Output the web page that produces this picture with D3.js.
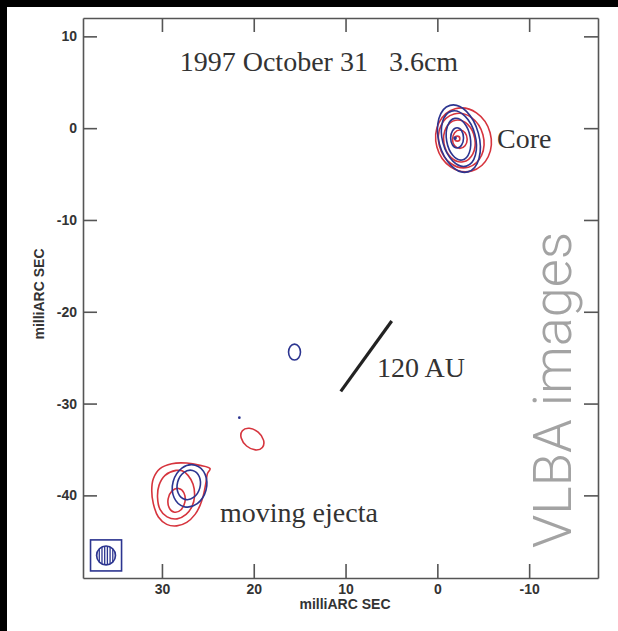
<!DOCTYPE html>
<html><head><meta charset="utf-8">
<script src="https://cdn.jsdelivr.net/npm/d3@7"></script>
<style>
html,body{margin:0;padding:0;background:#fff;overflow:hidden;}
svg{display:block;}
</style></head><body>
<svg id="chart" width="618" height="631"></svg>
<script>
// Offsets in milliarcseconds (RA offset grows to the left).
const xTicks = [30, 20, 10, 0, -10];
const yTicks = [10, 0, -10, -20, -30, -40];
const xDomain = [38.6, -17.5];
const yDomain = [-49, 12];

// Contour fits: [cx, cy, rx, ry, angleDeg] in mas.
const coreBlue = [
  [-2.35, -1.14, 2.20, 3.75, -15],
  [-2.35, -1.14, 1.80, 3.10, -15],
  [-2.30, -1.20, 1.30, 2.30, -10],
  [-2.15, -1.06, 0.70, 1.10, 0]
];
const coreRed = [
  [-2.85, -1.27, 3.00, 3.50, -15],
  [-2.60, -1.35, 2.45, 3.00, -15],
  [-2.40, -1.40, 1.70, 2.30, -10],
  [-2.45, -1.20, 0.80, 1.00, 0],
  [-2.18, -1.14, 0.27, 0.27, 0]
];
const knotBlue = [
  [26.99, -38.97, 1.85, 2.34, 15],
  [27.08, -38.86, 1.25, 1.63, 15],
  [15.56, -24.39, 0.65, 0.87, 0]
];
const knotRed = [
  [28.41, -40.54, 0.93, 1.31, 10],
  [20.15, -33.87, 1.42, 0.98, 40]
];
// Peak dots [x, y, r]
const dotsBlue = [[-1.93, -1.08, 0.2], [21.57, -31.54, 0.15]];

// Irregular outer contours of the ejecta (mas)
const ejectaRedOuter = [
  [24.76,-37.09],[25.85,-36.73],[27.30,-36.48],[28.93,-36.55],[30.21,-37.09],
  [30.94,-38.18],[31.11,-39.46],[30.94,-40.90],[30.39,-42.36],[29.48,-43.16],
  [28.39,-43.32],[27.30,-42.94],[26.39,-42.07],[25.85,-41.09],[25.49,-40.00],
  [25.20,-38.55],[25.05,-37.64]
];
const ejectaRedMid = [
  [28.46,-37.28],[29.66,-37.82],[30.32,-38.91],[30.48,-40.22],[30.21,-41.52],
  [29.44,-42.34],[28.35,-42.56],[27.37,-42.07],[26.72,-41.20],[26.45,-40.11],
  [26.61,-38.80],[27.16,-37.82],[27.81,-37.33]
];

// 120 AU scale bar end points (mas)
const scaleBar = [[10.52, -28.67], [4.97, -21.01]];
// Restoring beam: centre, radius, box half-size (mas)
const beam = {x: 36.09, y: -46.54, r: 1.03, half: 1.69};

const labels = [
  {text: "1997 October 31   3.6cm", x: 12.9, y: 6.2, anchor: "middle"},
  {text: "Core", x: -6.5, y: -2.19, anchor: "start"},
  {text: "120 AU", x: 6.57, y: -27.14, anchor: "start"},
  {text: "moving ejecta", x: 23.67, y: -42.94, anchor: "start"}
];

const RED = "#d6343d", BLUE = "#2c3590", INK = "#333", FRAME = "#555";

const svg = d3.select("#chart");
svg.append("rect").attr("width", 618).attr("height", 631).attr("fill", "#fff");
// dark edge bands
svg.append("rect").attr("x", 0).attr("y", 0).attr("width", 618).attr("height", 7).attr("fill", "#000");
svg.append("rect").attr("x", 0).attr("y", 0).attr("width", 7).attr("height", 631).attr("fill", "#000");

const plotL = 83, plotR = 598, plotT = 18, plotB = 578;
const x = d3.scaleLinear().domain(xDomain).range([plotL, plotR]);
const y = d3.scaleLinear().domain(yDomain).range([plotB, plotT]);
const k = Math.abs(x(1) - x(0));
const fmt = d => String(d);

// axes, ticks pointing inward
const axisStyle = g => {
  g.selectAll(".domain").attr("stroke", FRAME).attr("stroke-width", 1.6);
  g.selectAll(".tick line").attr("stroke", FRAME).attr("stroke-width", 1.6);
  g.selectAll("text").attr("fill", INK).attr("font-family", "Liberation Sans, Arial, sans-serif")
    .attr("font-weight", "bold").attr("font-size", 14);
};
svg.append("g").attr("transform", `translate(0,${plotB})`)
  .call(d3.axisBottom(x).tickValues(xTicks).tickFormat(fmt).tickSize(-14).tickSizeOuter(0).tickPadding(6))
  .call(axisStyle);
svg.append("g").attr("transform", `translate(0,${plotT})`)
  .call(d3.axisTop(x).tickValues(xTicks).tickSize(-14).tickSizeOuter(0).tickFormat(""))
  .call(axisStyle);
svg.append("g").attr("transform", `translate(${plotL},0)`)
  .call(d3.axisLeft(y).tickValues(yTicks).tickFormat(fmt).tickSize(-14).tickSizeOuter(0).tickPadding(6))
  .call(axisStyle);
svg.append("g").attr("transform", `translate(${plotR},0)`)
  .call(d3.axisRight(y).tickValues(yTicks).tickSize(-14).tickSizeOuter(0).tickFormat(""))
  .call(axisStyle);

// axis titles
svg.append("text").attr("x", 345).attr("y", 609).attr("text-anchor", "middle")
  .attr("font-family", "Liberation Sans, Arial, sans-serif").attr("font-weight", "bold")
  .attr("font-size", 14).attr("fill", INK).text("milliARC SEC");
svg.append("text").attr("transform", "translate(44,294) rotate(-90)").attr("text-anchor", "middle")
  .attr("font-family", "Liberation Sans, Arial, sans-serif").attr("font-weight", "bold")
  .attr("font-size", 14).attr("fill", INK).text("milliARC SEC");

// vertical caption
svg.append("text").attr("transform", "translate(571,548) rotate(-90)")
  .attr("font-family", "Roboto, sans-serif").attr("font-weight", 300)
  .attr("font-size", 54).attr("fill", "#a3a3a3").text("VLBA images");

// contour ellipses
const drawEllipses = (data, color) => svg.append("g").selectAll("ellipse").data(data).join("ellipse")
  .attr("cx", d => x(d[0])).attr("cy", d => y(d[1]))
  .attr("rx", d => d[2] * k).attr("ry", d => d[3] * k)
  .attr("transform", d => `rotate(${d[4]},${x(d[0])},${y(d[1])})`)
  .attr("fill", "none").attr("stroke", color).attr("stroke-width", 1.6);

const line = d3.line().x(d => x(d[0])).y(d => y(d[1])).curve(d3.curveCatmullRomClosed.alpha(0.5));
svg.append("g").selectAll("path").data([ejectaRedOuter, ejectaRedMid]).join("path")
  .attr("d", line).attr("fill", "none").attr("stroke", RED).attr("stroke-width", 1.6);

drawEllipses(coreRed, RED);
drawEllipses(knotRed, RED);
drawEllipses(coreBlue, BLUE);
drawEllipses(knotBlue, BLUE);
svg.append("g").selectAll("circle").data(dotsBlue).join("circle")
  .attr("cx", d => x(d[0])).attr("cy", d => y(d[1])).attr("r", d => d[2] * k).attr("fill", BLUE);

// scale bar
svg.append("line").attr("x1", x(scaleBar[0][0])).attr("y1", y(scaleBar[0][1]))
  .attr("x2", x(scaleBar[1][0])).attr("y2", y(scaleBar[1][1]))
  .attr("stroke", "#222").attr("stroke-width", 3.2);

// annotations
svg.append("g").selectAll("text").data(labels).join("text")
  .attr("x", d => x(d.x)).attr("y", d => y(d.y)).attr("text-anchor", d => d.anchor)
  .attr("font-family", "Liberation Serif, Times New Roman, serif").attr("font-size", 28)
  .attr("fill", INK).style("white-space", "pre").text(d => d.text);

// beam in its box, hatched
const bx = x(beam.x), by = y(beam.y), br = beam.r * k, bh = beam.half * k;
svg.append("rect").attr("x", bx - bh).attr("y", by - bh).attr("width", 2 * bh).attr("height", 2 * bh)
  .attr("fill", "none").attr("stroke", BLUE).attr("stroke-width", 1.6);
svg.append("clipPath").attr("id", "beamclip").append("circle").attr("cx", bx).attr("cy", by).attr("r", br);
const hatch = d3.range(-br, br + 0.1, 2.7);
svg.append("g").attr("clip-path", "url(#beamclip)").selectAll("line").data(hatch).join("line")
  .attr("x1", d => bx + d).attr("x2", d => bx + d).attr("y1", by - br).attr("y2", by + br)
  .attr("stroke", BLUE).attr("stroke-width", 1.3);
svg.append("circle").attr("cx", bx).attr("cy", by).attr("r", br)
  .attr("fill", "none").attr("stroke", BLUE).attr("stroke-width", 1.6);
</script>
</body></html>
